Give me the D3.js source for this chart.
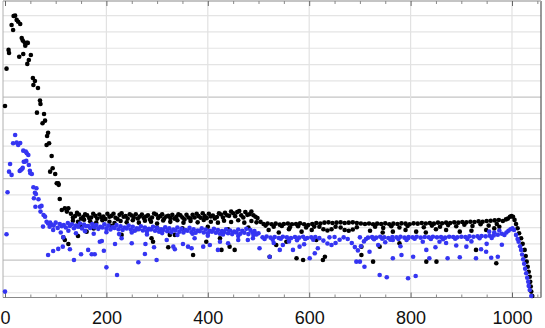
<!DOCTYPE html>
<html>
<head>
<meta charset="utf-8">
<script src="https://cdn.jsdelivr.net/npm/d3@7"></script>
<style>
  body { margin: 0; background: #fff; }
  svg { display: block; font-family: "Liberation Sans", Arial, sans-serif; }
</style>
</head>
<body>
<div id="chart"></div>
<script>
// x tick labels and grid positions
const xMajor = [0, 200, 400, 600, 800, 1000];
const xMinor = d3.range(0, 1051, 50);
const yGrid = d3.range(0, 18);      // horizontal grid lines (arbitrary units)
const yGridMajor = [2, 7, 12];

// black series [x, y]
const black = [
  [0,11.46],[3,13.75],[7,14.90],[8,14.71],[13,16.43],[16,16.12],[17,16.98],[20,17.0],[23,16.74],[26,16.63],
  [28,14.48],[30,16.49],[33,15.63],[35,15.47],[36,14.65],[39,15.34],[40,15.16],[43,15.33],[44,14.04],[45,15.33],
  [47,14.28],[51,14.59],[55,13.18],[56,12.75],[59,12.99],[63,11.05],[65,12.56],[69,11.79],[70,11.58],[74,10.40],
  [77,10.97],[79,10.56],[82,9.07],[83,9.62],[85,9.82],[87,9.17],[89,7.43],[92,8.39],[94,7.64],[99,7.29],
  [102,6.72],[105,6.72],[106,6.62],[108,5.75],[112,5.08],[115,3.40],[118,5.18],[118,3.24],[122,4.98],[125,5.18],
  [125,2.99],[144,3.48],[161,3.75],[230,3.55],[289,3.34],[292,3.13],[322,2.79],[325,3.55],[335,3.55],
  // upper band
  [130,4.85],[138,4.70],[146,4.80],[154,4.65],[162,4.75],[170,4.62],[178,4.72],[186,4.80],[194,4.68],[202,4.85],
  [210,4.72],[218,4.60],[226,4.78],[234,4.66],[242,4.55],[250,4.74],[258,4.82],[266,4.68],[274,4.58],[282,4.75],
  [290,4.62],[298,4.80],[306,4.70],[314,4.55],[322,4.72],[330,4.78],[338,4.66],[346,4.75],[354,4.50],[362,4.62],
  [370,4.78],[378,4.85],[386,4.60],[394,4.70],[402,4.85],[410,4.74],[418,4.65],[426,4.80],[434,4.90],[442,4.72],
  [450,4.88],[458,4.95],[466,4.75],[474,4.95],[482,4.82],[490,4.76],[498,4.58],[504,4.35],
  [134,4.62],[142,4.90],[150,4.55],[158,4.82],[166,4.58],[174,4.85],[182,4.55],[190,4.62],[198,4.52],[206,4.66],
  [214,4.85],[222,4.52],[230,4.88],[238,4.70],[246,4.82],[254,4.60],[262,4.56],[270,4.80],[278,4.68],[286,4.50],
  [294,4.86],[302,4.58],[310,4.82],[318,4.68],[326,4.58],[334,4.55],[342,4.82],[350,4.62],[358,4.78],[366,4.55],
  [374,4.62],[382,4.70],[390,4.88],[398,4.58],[406,4.68],[414,4.56],[422,4.88],[430,4.62],[438,4.76],[446,4.98],
  [454,4.70],[462,5.02],[470,4.62],[478,4.78],[486,4.98],[494,4.66],
  [134,4.42],[144,4.35],[156,4.48],[168,4.38],[180,4.30],[192,4.45],[206,4.36],[216,4.28],[228,4.40],[240,4.32],
  [252,4.45],[264,4.30],[276,4.42],[288,4.36],[300,4.25],[312,4.44],[326,4.35],[340,4.45],[352,4.30],[366,4.40],
  [380,4.32],[392,4.46],[406,4.36],[420,4.30],[432,4.42],[446,4.34],[460,4.45],[472,4.30],[486,4.40],[496,4.32],
  [150,4.05],[175,3.95],[210,4.10],[260,3.90],[300,4.00],[350,3.95],[400,4.05],[440,3.90],[480,4.00],
  // scattered below band
  [371,2.32],[397,3.13],[424,3.34],[427,2.63],[443,2.83],[453,2.63],[522,2.21],[535,2.93],[555,3.13],[575,2.12],
  [588,2.01],[614,3.24],[627,2.01],[631,2.21],[703,2.32],[703,2.83],[726,1.91],[739,2.83],[778,3.04],[831,1.91],
  [851,1.91],[929,2.63],[969,1.81],
  // flat band after 500
  [510,4.22],[518,4.25],[526,4.20],[534,4.24],[542,4.18],[550,4.22],[558,4.25],[566,4.20],[574,4.22],[582,4.26],
  [590,4.20],[598,4.15],[606,4.22],[614,4.28],[622,4.25],[630,4.30],[638,4.32],[646,4.28],[654,4.30],[662,4.32],
  [670,4.28],[678,4.30],[686,4.32],[694,4.28],[702,4.25],[710,4.22],[718,4.25],[726,4.20],[734,4.24],[742,4.22],
  [750,4.26],[758,4.20],[766,4.24],[774,4.22],[782,4.26],[790,4.24],[798,4.20],[806,4.26],[814,4.24],[822,4.28],
  [830,4.25],[838,4.28],[846,4.24],[854,4.30],[862,4.26],[870,4.30],[878,4.28],[886,4.32],[894,4.30],[902,4.34],
  [910,4.32],[918,4.36],[926,4.34],[934,4.38],[942,4.36],[950,4.40],[958,4.42],[966,4.44],[974,4.46],[982,4.40],
  [514,4.12],[530,4.05],[546,4.10],[562,4.02],[578,4.08],[594,4.00],[610,4.06],[730,4.05],[746,3.98],[762,4.08],
  [778,4.00],[794,4.10],[826,4.02],[842,4.12],[858,4.05],[874,4.15],[890,4.08],[906,4.18],[922,4.10],[938,4.20],
  [954,4.12],[970,4.22],
  [620,4.05],[628,3.90],[636,3.82],[644,3.90],[652,4.05],[662,4.00],[670,3.85],[678,3.80],[686,3.88],[694,4.02],
  [520,3.85],[540,3.70],[560,3.90],[585,3.75],[605,3.85],[720,3.80],[745,3.70],[765,3.75],[790,3.85],[811,3.75],
  [830,3.70],[850,3.90],[870,3.85],[897,3.75],[920,3.80],[949,3.85],[965,3.95],[975,4.05],
  // peak and tail
  [988,4.50],[992,4.55],[996,4.66],[999,4.71],[1002,4.66],[1005,4.47],[1008,4.22],[1011,3.96],[1014,3.65],
  [1018,3.34],[1021,3.00],[1025,2.63],[1027,2.25],[1029,1.91],[1031,1.60],[1033,1.29],[1035,0.98],[1036,0.68],
  [1037,0.38],[1038,0.07],[1040,-0.20]
];

// blue series [x, y]
const blue = [
  [0,0.07],[3,3.59],[5,6.17],[8,7.43],[10,7.90],[13,7.23],[16,9.17],[20,9.68],[23,9.21],[26,9.07],
  [29,7.47],[30,9.19],[31,7.53],[33,7.58],[35,7.66],[36,8.72],[37,8.04],[39,8.04],[41,8.66],[42,8.09],
  [43,8.56],[46,8.45],[47,7.84],[49,7.49],[50,7.33],[53,7.29],[56,6.47],[57,5.80],[59,6.14],[60,5.28],
  [61,6.06],[62,6.41],[66,5.74],[69,5.28],[70,4.98],[72,5.33],[75,4.06],[76,4.77],[79,4.67],[82,4.36],[89,4.30],
  // band
  [85,4.25],[92,4.18],[100,4.30],[108,4.22],[116,4.15],[124,4.28],[132,4.20],[140,4.12],[148,4.25],[156,4.18],
  [164,4.10],[172,4.22],[180,4.15],[188,4.05],[196,4.20],[204,4.12],[212,4.02],[220,4.15],[228,4.08],[236,4.00],
  [244,4.12],[252,4.05],[260,3.95],[268,4.08],[276,4.00],[284,3.92],[292,4.05],[300,3.98],[308,3.90],[316,4.02],
  [324,3.95],[332,3.88],[340,4.00],[348,3.92],[356,3.85],[364,3.98],[372,3.90],[380,3.82],[388,3.95],[396,3.88],
  [404,3.80],[412,3.92],[420,3.85],[428,3.78],[436,3.90],[444,3.82],[452,3.75],[460,3.88],[468,3.80],[476,3.92],
  [484,3.85],[492,3.78],[500,3.65],
  [88,4.05],[96,4.12],[104,3.98],[112,4.08],[120,4.00],[128,4.10],[136,3.96],[144,4.05],[152,3.95],[160,4.08],
  [168,3.98],[176,4.02],[184,3.92],[192,4.00],[200,3.95],[208,3.88],[216,3.98],[224,3.90],[232,3.85],[240,3.95],
  [248,3.88],[256,3.80],[264,3.90],[272,3.82],[280,3.78],[288,3.88],[296,3.80],[304,3.75],[312,3.85],[320,3.78],
  [328,3.72],[336,3.82],[344,3.75],[352,3.70],[360,3.80],[368,3.72],[376,3.68],[384,3.78],[392,3.70],[400,3.65],
  [408,3.75],[416,3.68],[424,3.62],[432,3.72],[440,3.65],[448,3.60],[456,3.70],[464,3.62],[472,3.68],[480,3.60],
  [488,3.70],[496,3.58],
  [95,3.85],[110,3.70],[125,3.80],[140,3.65],[158,3.78],[175,3.62],[200,3.72],[225,3.60],[250,3.70],[280,3.58],
  [310,3.66],[340,3.55],[370,3.62],[400,3.50],[430,3.58],[460,3.48],[490,3.55],
  // scattered below band
  [85,2.32],[95,2.56],[105,2.69],[114,2.83],[115,3.40],[128,2.67],[136,2.01],[150,2.36],[164,2.63],[171,2.36],
  [177,2.36],[187,3.13],[191,3.18],[195,2.58],[200,1.56],[217,2.99],[221,1.09],[230,3.34],[250,3.04],[263,1.87],
  [276,2.38],[277,2.99],[294,2.79],[299,2.01],[319,3.24],[332,2.83],[335,2.67],[351,2.99],[361,2.83],[368,2.73],
  [374,3.34],[391,2.83],[404,2.93],[420,2.63],[424,3.13],[440,3.04],[460,3.24],[479,3.24],[489,3.34],[502,2.73],
  [522,2.21],[542,2.63],[548,2.93],[568,2.63],[581,2.83],[601,2.12],[611,2.42],[617,2.73],[693,1.91],[700,1.91],
  [709,1.60],[719,2.52],[726,3.34],[736,2.93],[739,1.09],[753,0.95],[765,2.12],[765,3.24],[782,2.32],[795,0.89],
  [795,3.34],[805,2.21],[810,1.03],[824,3.13],[831,2.63],[837,2.12],[849,2.79],[857,3.13],[873,2.12],[897,2.18],
  [910,2.83],[929,2.12],[939,2.67],[949,2.52],[959,2.15],[972,2.21],
  [530,3.05],[560,3.15],[590,2.98],[750,3.10],[780,2.85],[870,3.05],[890,2.90],[920,3.15],[950,3.00],[980,2.95],
  // flat band after 500
  [508,3.40],[516,3.45],[524,3.38],[532,3.42],[540,3.36],[548,3.44],[556,3.40],[564,3.35],[572,3.42],[580,3.38],
  [588,3.44],[596,3.36],[604,3.40],[612,3.42],[620,3.35],[628,3.20],[636,3.02],[644,2.93],[652,3.05],[660,3.25],
  [668,3.40],[676,3.30],[684,3.05],[690,2.80],[696,2.60],[702,2.85],[708,3.15],[716,3.38],[724,3.42],[732,3.38],
  [740,3.44],[748,3.40],[756,3.36],[764,3.42],[772,3.40],[780,3.44],[788,3.38],[796,3.42],[804,3.40],[812,3.44],
  [820,3.38],[828,3.42],[836,3.40],[844,3.44],[852,3.40],[860,3.42],[868,3.38],[876,3.44],[884,3.42],[892,3.40],
  [900,3.44],[908,3.42],[916,3.46],[924,3.44],[932,3.46],[940,3.48],[948,3.46],[956,3.50],[964,3.52],[972,3.56],
  [980,3.62],[955,3.75],[965,3.70],[975,3.82],
  [512,3.30],[528,3.25],[544,3.32],[560,3.28],[576,3.22],[592,3.30],[608,3.26],[640,3.40],[650,3.42],[700,3.40],
  [712,3.30],[728,3.28],[744,3.32],[760,3.26],[776,3.30],[792,3.24],[808,3.32],[840,3.30],[864,3.28],[888,3.32],
  [912,3.30],[936,3.34],[960,3.36],
  // peak and tail
  [985,3.55],[989,3.70],[993,3.80],[997,3.90],[1001,3.96],[1004,3.85],[1008,3.55],[1011,3.30],[1013,3.13],
  [1016,2.85],[1018,2.63],[1020,2.35],[1022,2.05],[1024,1.78],[1026,1.48],[1028,1.20],[1030,0.92],[1032,0.68],
  [1033,0.42],[1035,0.17],[1038,-0.20]
];

const W = 545, H = 328;
const frame = {left: 3, right: 541, top: 1, bottom: 297.5};

const x = d3.scaleLinear().domain([0, 1000]).range([5, 512]);
const y = d3.scaleLinear().domain([-0.26, 17.9]).range([297, 1]);

const svg = d3.select('#chart').append('svg')
  .attr('width', W).attr('height', H);

// grid
const grid = svg.append('g');
grid.selectAll('line.h')
  .data(yGrid)
  .enter().append('line')
  .attr('x1', frame.left).attr('x2', frame.right)
  .attr('y1', d => y(d)).attr('y2', d => y(d))
  .attr('stroke', d => yGridMajor.includes(d) ? '#c4c4c4' : '#e4e4e4')
  .attr('stroke-width', 1.2);
grid.selectAll('line.v')
  .data(xMajor.filter(d => d > 0))
  .enter().append('line')
  .attr('x1', d => x(d)).attr('x2', d => x(d))
  .attr('y1', frame.top).attr('y2', frame.bottom)
  .attr('stroke', '#e2e2e2')
  .attr('stroke-width', 1.2);

// frame
const fr = svg.append('g').attr('fill', 'none');
fr.append('line').attr('x1', frame.left).attr('x2', frame.left).attr('y1', frame.top).attr('y2', frame.bottom)
  .attr('stroke', '#b0b0b0').attr('stroke-width', 1);
fr.append('line').attr('x1', frame.right).attr('x2', frame.right).attr('y1', frame.top).attr('y2', frame.bottom)
  .attr('stroke', '#555').attr('stroke-width', 1.2);
fr.append('line').attr('x1', frame.left).attr('x2', frame.right).attr('y1', frame.top).attr('y2', frame.top)
  .attr('stroke', '#b0b0b0').attr('stroke-width', 1.5);
fr.append('line').attr('x1', frame.left).attr('x2', frame.right).attr('y1', frame.bottom).attr('y2', frame.bottom)
  .attr('stroke', '#888').attr('stroke-width', 1);

// bottom axis (labels + ticks pointing up)
const bottomAxis = svg.append('g')
  .attr('transform', `translate(0,${frame.bottom})`)
  .call(d3.axisBottom(x).tickValues(xMajor).tickSize(-5).tickPadding(14).tickFormat(d3.format('d')));
bottomAxis.select('.domain').remove();
bottomAxis.selectAll('line').attr('stroke', '#666');
bottomAxis.selectAll('text').attr('font-size', 18).attr('fill', '#111')
  .attr('font-family', '"Liberation Sans", Arial, sans-serif');

const bottomMinor = svg.append('g')
  .attr('transform', `translate(0,${frame.bottom})`)
  .call(d3.axisBottom(x).tickValues(xMinor.filter(d => !xMajor.includes(d))).tickSize(-3).tickFormat(''));
bottomMinor.select('.domain').remove();
bottomMinor.selectAll('line').attr('stroke', '#888');

// top axis (ticks pointing down)
const topAxis = svg.append('g')
  .attr('transform', `translate(0,${frame.top})`)
  .call(d3.axisTop(x).tickValues(xMajor).tickSize(-5).tickFormat(''));
topAxis.select('.domain').remove();
topAxis.selectAll('line').attr('stroke', '#666');
const topMinor = svg.append('g')
  .attr('transform', `translate(0,${frame.top})`)
  .call(d3.axisTop(x).tickValues(xMinor.filter(d => !xMajor.includes(d))).tickSize(-3).tickFormat(''));
topMinor.select('.domain').remove();
topMinor.selectAll('line').attr('stroke', '#888');

// points
const r = 2.3;
svg.append('g').selectAll('circle')
  .data(black)
  .enter().append('circle')
  .attr('cx', d => x(d[0])).attr('cy', d => y(d[1])).attr('r', r)
  .attr('fill', '#000');
svg.append('g').selectAll('circle')
  .data(blue)
  .enter().append('circle')
  .attr('cx', d => x(d[0])).attr('cy', d => y(d[1])).attr('r', r)
  .attr('fill', '#3535f2');
</script>
</body>
</html>
